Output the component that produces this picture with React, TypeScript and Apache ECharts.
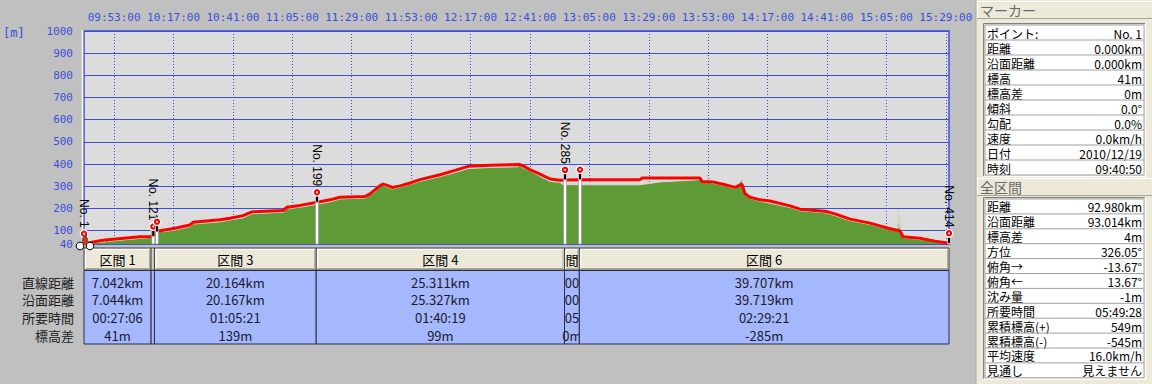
import { useEffect, useRef } from "react";
import * as echarts from "echarts";

// ---------- data ----------
const startTime = "09:40:50";
const endTime = "15:30:18";
const timeTicks = [
  "09:53:00", "10:17:00", "10:41:00", "11:05:00", "11:29:00", "11:53:00", "12:17:00",
  "12:41:00", "13:05:00", "13:29:00", "13:53:00", "14:17:00", "14:41:00", "15:05:00", "15:29:00",
];
const elevTicks = [40, 100, 200, 300, 400, 500, 600, 700, 800, 900, 1000];

// GPS elevation (red line): [time, metres]
const gpsTrack: [string, number][] = [
  ["09:40:50", 41], ["09:47:18", 55], ["09:49:19", 58], ["10:03:27", 73], ["10:07:30", 73],
  ["10:08:50", 75], ["10:10:19", 97], ["10:17:36", 111], ["10:23:39", 126], ["10:24:52", 138],
  ["10:35:47", 149], ["10:39:49", 156], ["10:45:04", 168], ["10:48:42", 185], ["11:01:14", 191],
  ["11:02:51", 206], ["11:08:06", 214], ["11:14:34", 227], ["11:20:13", 239], ["11:24:16", 251],
  ["11:34:22", 254], ["11:36:23", 266], ["11:38:24", 284], ["11:40:25", 303], ["11:41:38", 310],
  ["11:43:39", 303], ["11:45:16", 295], ["11:48:30", 302], ["11:52:33", 315], ["11:56:35", 330],
  ["12:04:40", 352], ["12:10:43", 372], ["12:15:58", 390], ["12:24:52", 395], ["12:36:59", 398],
  ["12:38:12", 392], ["12:41:01", 375], ["12:45:04", 355], ["12:49:06", 333], ["12:53:09", 327],
  ["12:55:10", 328], ["13:01:13", 330], ["13:25:28", 330], ["13:26:16", 337], ["13:49:42", 337],
  ["13:50:31", 322], ["13:54:57", 320], ["13:59:48", 307], ["14:03:51", 295], ["14:06:40", 310],
  ["14:07:53", 266], ["14:09:54", 251], ["14:13:57", 239], ["14:17:59", 234], ["14:26:04", 212],
  ["14:30:06", 197], ["14:41:01", 186], ["14:44:15", 176], ["14:50:18", 152], ["14:58:23", 134],
  ["15:05:39", 111], ["15:10:30", 99], ["15:11:43", 73], ["15:18:35", 66], ["15:24:39", 53],
  ["15:30:18", 43],
];

// Terrain elevation (green area): [time, metres]
const terrain: [string, number][] = [
  ["09:40:50", 40], ["09:47:18", 48], ["09:49:43", 50], ["09:50:08", 76], ["09:50:32", 52],
  ["10:03:27", 65], ["10:07:30", 68], ["10:08:18", 157], ["10:09:07", 80], ["10:10:19", 90],
  ["10:12:21", 113], ["10:12:45", 95], ["10:17:36", 103], ["10:23:39", 118], ["10:24:52", 130],
  ["10:35:47", 140], ["10:39:49", 148], ["10:45:04", 158], ["10:48:42", 176], ["11:01:14", 183],
  ["11:02:27", 196], ["11:02:51", 243], ["11:03:15", 198], ["11:08:06", 206], ["11:14:34", 218],
  ["11:20:13", 230], ["11:24:16", 243], ["11:34:22", 247], ["11:38:24", 276], ["11:40:25", 298],
  ["11:41:13", 316], ["11:42:02", 303], ["11:45:16", 288], ["11:48:30", 296], ["11:56:35", 322],
  ["12:04:40", 344], ["12:10:43", 362], ["12:15:58", 380], ["12:24:52", 385], ["12:36:10", 388],
  ["12:36:59", 395], ["12:37:48", 385], ["12:41:01", 370], ["12:45:04", 345], ["12:49:06", 322],
  ["12:53:09", 318], ["12:54:21", 308], ["13:01:13", 307], ["13:25:28", 307], ["13:33:33", 320],
  ["13:49:42", 330], ["13:54:57", 315], ["13:59:48", 302], ["14:03:51", 290], ["14:06:40", 330],
  ["14:07:53", 260], ["14:09:54", 245], ["14:13:57", 233], ["14:26:04", 205], ["14:30:06", 190],
  ["14:41:01", 180], ["14:50:18", 145], ["14:58:23", 128], ["15:05:39", 106], ["15:09:18", 100],
  ["15:09:42", 197], ["15:10:06", 110], ["15:10:30", 172], ["15:10:54", 95], ["15:11:43", 68],
  ["15:18:35", 60], ["15:21:25", 58], ["15:21:49", 85], ["15:22:13", 56], ["15:24:39", 50],
  ["15:30:18", 40],
];

// Markers (pins)
const markerTimes = ["09:40:50", "10:08:50", "10:10:19", "11:14:58", "12:55:10", "13:01:13", "15:30:18"];
const markerElevs = [41, 74, 95, 228, 329, 330, 43];
const markerLabels = ["No. 1", "No. 121", "", "No. 199", "No. 285", "", "No. 414"];

// Section table
const sectionBounds = ["09:40:50", "10:07:56", "10:09:18", "11:14:39", "12:54:58", "13:00:57", "15:30:18"];
const sectionHeaders = ["区間 1", "", "区間 3", "区間 4", "間", "区間 6"];
const rowLabels = ["直線距離", "沿面距離", "所要時間", "標高差"];
const straightDist = ["7.042km", "", "20.164km", "25.311km", "00", "39.707km"];
const surfaceDist = ["7.044km", "", "20.167km", "25.327km", "00", "39.719km"];
const durations = ["00:27:06", "", "01:05:21", "01:40:19", "05", "02:29:21"];
const elevDiffs = ["41m", "", "139m", "99m", "0m", "-285m"];

// Right panel
const markerPanelTitle = "マーカー";
const markerPanelLabels = ["ポイント:", "距離", "沿面距離", "標高", "標高差", "傾斜", "勾配", "速度", "日付", "時刻"];
const markerPanelValues = ["No. 1", "0.000km", "0.000km", "41m", "0m", "0.0°", "0.0%", "0.0km/h", "2010/12/19", "09:40:50"];
const totalPanelTitle = "全区間";
const totalPanelLabels = ["距離", "沿面距離", "標高差", "方位", "俯角→", "俯角←", "沈み量", "所要時間", "累積標高(+)", "累積標高(-)", "平均速度", "見通し"];
const totalPanelValues = ["92.980km", "93.014km", "4m", "326.05°", "-13.67°", "13.67°", "-1m", "05:49:28", "549m", "-545m", "16.0km/h", "見えません"];

// ---------- helpers ----------
const toMin = (s: string) => {
  const [h, m, sec] = s.split(":").map(Number);
  return h * 60 + m + (sec || 0) / 60;
};
const fmtTime = (v: number) => {
  const total = Math.round(v * 60);
  const h = Math.floor(total / 3600);
  const m = Math.floor((total % 3600) / 60);
  const s = total % 60;
  const p = (n: number) => String(n).padStart(2, "0");
  return `${p(h)}:${p(m)}:${p(s)}`;
};

const BLUE = "#3b4fdc";
const MONO = '"DejaVu Sans Mono", monospace';
const JP = '"Noto Sans CJK JP", sans-serif';

function panelHeader(y: number, title: string) {
  return [
    { type: "rect", shape: { x: 977, y, width: 175, height: 17 }, style: { fill: "#ece9d8" } },
    { type: "polyline", shape: { points: [[977.5, y + 17], [977.5, y + 0.5], [1152, y + 0.5]] }, style: { stroke: "#ffffff", fill: null, lineWidth: 1 } },
    { type: "line", shape: { x1: 977, y1: y + 17.5, x2: 1152, y2: y + 17.5 }, style: { stroke: "#aca899", lineWidth: 1 } },
    { type: "text", x: 980, y: y + 9, style: { text: title, fill: "#6a6a6a", fontSize: 14, lineHeight: 15, fontFamily: JP, align: "left", verticalAlign: "middle", textAlign: "left", textVerticalAlign: "middle" } },
  ];
}

function panelTable(top: number, rowH: number, labels: string[], values: string[]) {
  const x = 985, w = 159;
  const h = rowH * labels.length;
  const els: any[] = [
    { type: "rect", shape: { x, y: top, width: w, height: h }, style: { fill: "#ffffff", stroke: "#a0a0a0", lineWidth: 1 } },
    { type: "polyline", shape: { points: [[x - 1.5, top + h + 1], [x - 1.5, top - 1.5], [x + w + 1, top - 1.5]] }, style: { stroke: "#808080", fill: null, lineWidth: 1 } },
    { type: "polyline", shape: { points: [[x - 1.5, top + h + 1.5], [x + w + 1.5, top + h + 1.5], [x + w + 1.5, top - 1.5]] }, style: { stroke: "#ffffff", fill: null, lineWidth: 1 } },
  ];
  labels.forEach((lab, i) => {
    const yy = top + rowH * i;
    if (i > 0) els.push({ type: "line", shape: { x1: x, y1: yy, x2: x + w, y2: yy }, style: { stroke: "#a0a0a0", lineWidth: 1 } });
    els.push({ type: "text", x: x + 2, y: yy + rowH / 2 + 0.5, style: { text: lab, fill: "#000", fontSize: 12, lineHeight: 12, fontFamily: JP, align: "left", verticalAlign: "middle", textAlign: "left", textVerticalAlign: "middle" } });
    els.push({ type: "text", x: x + w - 2, y: yy + rowH / 2 + 0.5, style: { text: values[i], fill: "#000", fontSize: 12, lineHeight: 12, fontFamily: JP, align: "right", verticalAlign: "middle", textAlign: "right", textVerticalAlign: "middle" } });
  });
  return els;
}

const rowCenters = [282, 299.5, 317, 335];

function buildOption(): any {
  const graphic: any[] = [];
  // left white edge of plot frame
  graphic.push({ type: "line", shape: { x1: 82.5, y1: 30, x2: 82.5, y2: 246 }, style: { stroke: "#ffffff", lineWidth: 1.5 } });
  // unit label
  graphic.push({ type: "text", x: 3, y: 33, style: { text: "[m]", fill: BLUE, fontSize: 12, fontFamily: MONO, align: "left", verticalAlign: "middle", textAlign: "left", textVerticalAlign: "middle" } });
  // row labels of section table
  rowLabels.forEach((lab, i) => {
    graphic.push({ type: "text", x: 74, y: rowCenters[i], style: { text: lab, fill: "#202020", fontSize: 13, lineHeight: 14, fontFamily: JP, align: "right", verticalAlign: "middle", textAlign: "right", textVerticalAlign: "middle" } });
  });
  // right panel
  graphic.push({ type: "rect", shape: { x: 976, y: 0, width: 176, height: 384 }, style: { fill: "#ece9d8" } });
  graphic.push({ type: "line", shape: { x1: 976, y1: 0, x2: 976, y2: 384 }, style: { stroke: "#a8a8a8", lineWidth: 1 } });
  graphic.push(...panelHeader(1, markerPanelTitle));
  graphic.push(...panelTable(25, 15, markerPanelLabels, markerPanelValues));
  graphic.push(...panelHeader(178, totalPanelTitle));
  graphic.push(...panelTable(199, 14.9, totalPanelLabels, totalPanelValues));

  const sectionData = sectionBounds.slice(0, -1).map((s, i) => [toMin(s), toMin(sectionBounds[i + 1]), 40]);
  const rowValues = [straightDist, surfaceDist, durations, elevDiffs];

  return {
    animation: false,
    backgroundColor: "#c0c0c0",
    grid: {
      left: 84, right: 203, top: 31, bottom: 140,
      show: true, backgroundColor: "#dcdcdc", borderColor: BLUE, borderWidth: 1.5,
      outerBoundsMode: "none",
    },
    xAxis: {
      type: "value", position: "top",
      min: toMin(startTime), max: toMin(endTime),
      axisLine: { show: false },
      axisTick: { show: false, customValues: timeTicks.map(toMin) },
      axisLabel: {
        customValues: timeTicks.map(toMin), formatter: (v: number) => fmtTime(v),
        color: BLUE, fontSize: 11, fontFamily: MONO, margin: 8,
      },
      splitLine: { show: true, lineStyle: { color: BLUE, width: 1, type: [1, 2] } },
    },
    yAxis: {
      type: "value", min: 40, max: 1000,
      axisLine: { show: false },
      axisTick: { show: false, customValues: elevTicks },
      axisLabel: { customValues: elevTicks, formatter: (v: number) => String(v), color: BLUE, fontSize: 11, fontFamily: MONO, margin: 11 },
      splitLine: { show: true, lineStyle: { color: BLUE, width: 1 } },
    },
    graphic,
    series: [
      {
        type: "line", name: "terrain", z: 2, symbol: "none",
        data: terrain.map(([t, e]) => [toMin(t), e]),
        lineStyle: { color: "#d4dccd", width: 1 },
        areaStyle: { color: "#5e9a36", opacity: 1, origin: "start" },
      },
      {
        type: "line", name: "gps", z: 3, symbol: "none",
        data: gpsTrack.map(([t, e]) => [toMin(t), e]),
        lineStyle: { color: "#ff0000", width: 3 },
      },
      {
        type: "custom", name: "markers", z: 6, clip: false,
        encode: { x: 0, y: 1 },
        data: markerTimes.map((t, i) => [toMin(t), markerElevs[i]]),
        renderItem: (params: any, api: any) => {
          const t = api.value(0), e = api.value(1);
          const [x, y] = api.coord([t, e]);
          const yb = api.coord([t, 40])[1];
          const headY = y - 10;
          const label = markerLabels[params.dataIndex];
          const children: any[] = [
            { type: "rect", shape: { x: x - 1.5, y, width: 3, height: yb - y }, style: { fill: "#ffffff", stroke: "#8a8a8a", lineWidth: 0.6 } },
            { type: "rect", shape: { x: x - 1.5, y: headY, width: 3, height: y - headY }, style: { fill: "#000000", stroke: "#ffffff", lineWidth: 0.6 } },
            { type: "circle", shape: { cx: x, cy: headY, r: 3.8 }, style: { fill: "#ff0000", stroke: "#ffffff", lineWidth: 1.2 } },
            { type: "circle", shape: { cx: x, cy: headY, r: 1 }, style: { fill: "#ffffff" } },
          ];
          if (label) {
            children.push({
              type: "text", x, y: headY - 6, rotation: -Math.PI / 2,
              style: { text: label, fill: "#000", fontSize: 12, fontFamily: '"Liberation Sans", Arial, sans-serif', align: "right", verticalAlign: "middle", textAlign: "right", textVerticalAlign: "middle" },
            });
          }
          if (params.dataIndex === 0) {
            children.push(
              { type: "circle", shape: { cx: x - 4, cy: yb + 2, r: 3.8 }, style: { fill: "#ffffff", stroke: "#000", lineWidth: 1 } },
              { type: "circle", shape: { cx: x + 6, cy: yb + 2, r: 3.8 }, style: { fill: "#ffffff", stroke: "#000", lineWidth: 1 } },
              { type: "rect", shape: { x: x - 2, y: yb - 6, width: 6, height: 6 }, style: { fill: "#c0392b" } },
              { type: "rect", shape: { x: x - 1, y: yb - 9, width: 4, height: 4 }, style: { fill: "#8a4a20" } },
            );
          }
          return { type: "group", children };
        },
      },
      {
        type: "custom", name: "sections", z: 4, clip: false,
        encode: { x: [0, 1], y: 2 },
        data: sectionData,
        renderItem: (params: any, api: any) => {
          const i = params.dataIndex;
          const x0 = api.coord([api.value(0), 40])[0];
          const x1 = api.coord([api.value(1), 40])[0];
          const w = x1 - x0;
          const cx = (x0 + x1) / 2;
          const children: any[] = [
            { type: "rect", shape: { x: x0, y: 248, width: w, height: 22 }, style: { fill: "#ece9d8", stroke: "#404040", lineWidth: 1 } },
            { type: "polyline", shape: { points: [[x0 + 1.5, 269], [x0 + 1.5, 249.5], [x1 - 1, 249.5]] }, style: { stroke: "#ffffff", fill: null, lineWidth: 1 } },
            { type: "polyline", shape: { points: [[x0 + 1.5, 268.5], [x1 - 1.5, 268.5], [x1 - 1.5, 249.5]] }, style: { stroke: "#aca899", fill: null, lineWidth: 1 } },
            { type: "rect", shape: { x: x0, y: 270.5, width: w, height: 73.5 }, style: { fill: "#a5b8fd", stroke: "#2c2c48", lineWidth: 1 } },
          ];
          if (sectionHeaders[i]) {
            children.push({ type: "text", x: cx, y: 259.5, style: { text: sectionHeaders[i], fill: "#000", fontSize: 13, lineHeight: 14, fontFamily: JP, align: "center", verticalAlign: "middle", textAlign: "center", textVerticalAlign: "middle" } });
          }
          rowValues.forEach((vals, r) => {
            if (vals[i]) {
              children.push({ type: "text", x: cx, y: rowCenters[r], style: { text: vals[i], fill: "#1a1a2a", fontSize: 13, lineHeight: 14, fontFamily: JP, align: "center", verticalAlign: "middle", textAlign: "center", textVerticalAlign: "middle" } });
            }
          });
          return { type: "group", children };
        },
      },
    ],
  };
}

export default function App() {
  const ref = useRef<HTMLDivElement>(null);
  useEffect(() => {
    const chart = echarts.init(ref.current!, null, { renderer: "svg" });
    chart.setOption(buildOption());
    return () => chart.dispose();
  }, []);
  return <div ref={ref} style={{ position: "absolute", left: 0, top: 0, width: 1152, height: 384 }} />;
}
